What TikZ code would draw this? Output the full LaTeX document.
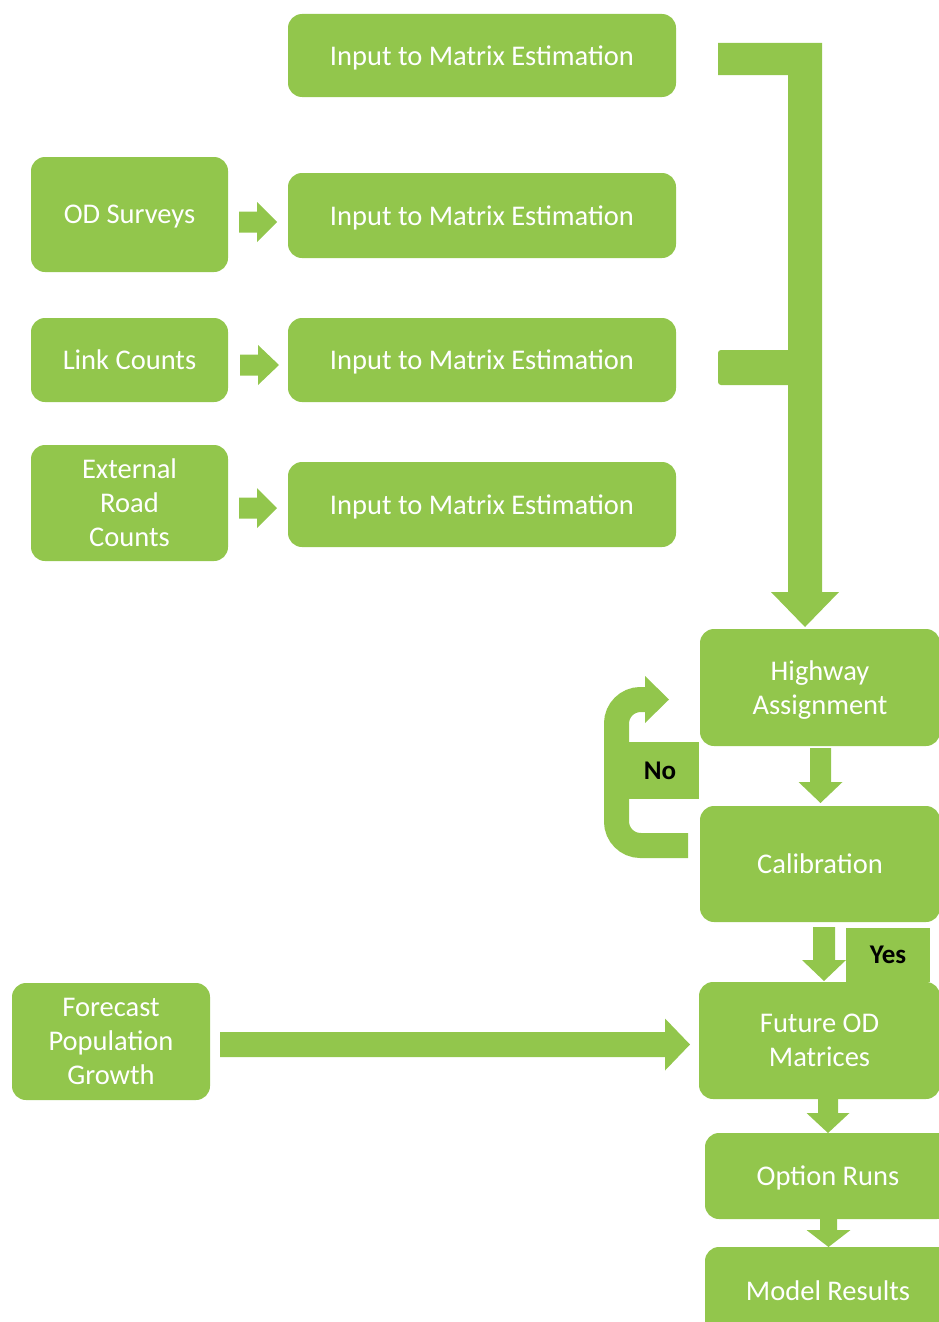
\documentclass[tikz,border=0pt]{standalone}
\usepackage{fontspec}
\setmainfont{Carlito}
\definecolor{gr}{HTML}{92C64C}
\newcommand\harrow[6]{% x1, xtip, yc, shaft half, head half, head len
  \fill[gr] (#1,#3-#4) -- (#2-#6,#3-#4) -- (#2-#6,#3-#5) -- (#2,#3) -- (#2-#6,#3+#5) -- (#2-#6,#3+#4) -- (#1,#3+#4) -- cycle;}
\newcommand\varrow[6]{% xc, y1, ytip, shaft half, head half, head len
  \fill[gr] (#1-#4,#2) -- (#1-#4,#3-#6) -- (#1-#5,#3-#6) -- (#1,#3) -- (#1+#5,#3-#6) -- (#1+#4,#3-#6) -- (#1+#4,#2) -- cycle;}
\begin{document}
\begin{tikzpicture}[x=1pt,y=-1pt,
  box/.style={fill=gr, rounded corners=14pt, text=white, align=center, inner sep=0pt,
    text depth=-3pt, font=\fontsize{28.5}{34}\selectfont},
  lab/.style={fill=gr, text=black, inner sep=0pt, text depth=-5pt, font=\fontsize{27}{32}\selectfont\bfseries}]
\useasboundingbox (0,0) rectangle (939,1322);
% left column
\node[box, minimum width=388, minimum height=83] (in1) at (482,55.5) {Input to Matrix Estimation};
\node[box, minimum width=197, minimum height=115] (od) at (129.5,214.5) {OD Surveys};
\node[box, minimum width=388, minimum height=85] (in2) at (482,215.5) {Input to Matrix Estimation};
\node[box, minimum width=197, minimum height=84] (lc) at (129.5,360) {Link Counts};
\node[box, minimum width=388, minimum height=84] (in3) at (482,360) {Input to Matrix Estimation};
\node[box, minimum width=197, minimum height=116] (er) at (129.5,503) {External\\Road\\Counts};
\node[box, minimum width=388, minimum height=85] (in4) at (482,504.5) {Input to Matrix Estimation};
\node[box, minimum width=198, minimum height=117] (fp) at (111,1041.5) {Forecast\\Population\\Growth};
% right column
\node[box, minimum width=240, minimum height=117] (ha) at (820,687.5) {Highway\\Assignment};
\node[box, minimum width=240, minimum height=116] (cal) at (820,864) {Calibration};
\node[box, minimum width=241, minimum height=117] (fod) at (819.5,1040.5) {Future OD\\Matrices};
\node[box, minimum width=246, minimum height=86] (or) at (828,1176) {Option Runs};
\node[box, minimum width=246, minimum height=88] (mr) at (828,1291) {Model Results};
% small arrows
\harrow{239}{277}{222}{10.5}{20}{20}
\harrow{240}{279}{365}{10.5}{20}{21}
\harrow{239}{277}{508}{10.5}{20}{20}
% bracket arrow into Highway Assignment
\fill[gr] (718,43) -- (822,43) -- (822,592) -- (839,592) -- (805,627) -- (771,592) -- (788,592)
  -- (788,385) -- (722,385) [rounded corners=3pt] -- (718,385) -- (718,350) [sharp corners] -- (722,350) -- (788,350)
  -- (788,75) -- (718,75) -- cycle;
% long arrow
\harrow{220}{690}{1044.5}{12.5}{26}{25}
% vertical arrows
\varrow{820.5}{748}{803}{10.5}{22}{21}
\varrow{824}{927}{981}{11}{22}{21}
\varrow{828}{1099}{1133}{10}{21.5}{20}
\varrow{828.5}{1219}{1247}{8.5}{22}{17}
% No loop
\draw[gr, line width=25pt, rounded corners=24pt] (688,845.5) -- (616.5,845.5) -- (616.5,699.5) -- (647,699.5);
\fill[gr] (645,676) -- (669,699.5) -- (645,723) -- cycle;
% labels
\node[lab, minimum width=70, minimum height=57] (no) at (664,770.5) {No\hspace*{8pt}};
\node[lab, minimum width=84, minimum height=54] (yes) at (888,955) {Yes};
\end{tikzpicture}
\end{document}
